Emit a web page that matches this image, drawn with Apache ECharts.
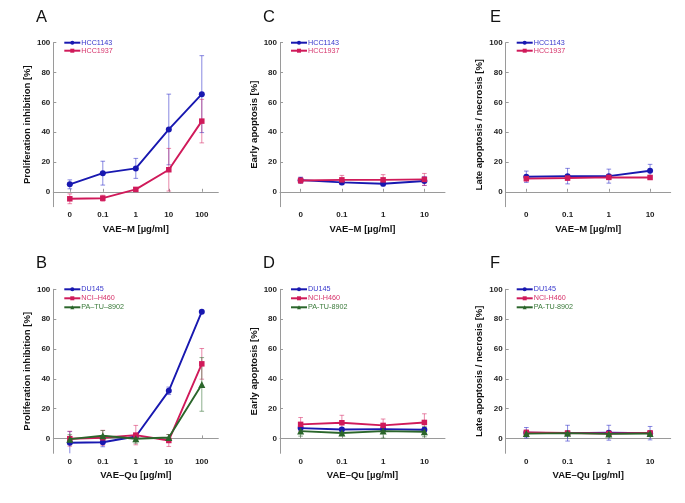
<!DOCTYPE html>
<html><head><meta charset="utf-8">
<script src="https://cdn.jsdelivr.net/npm/echarts@6/dist/echarts.min.js"></script>
<style>html,body{margin:0;padding:0;background:#fff}#c{width:685px;height:503px}</style>
</head><body><div id="c"></div>
<script>
// categories
const catsM = ['0', '0.1', '1', '10', '100'];
const cats4 = ['0', '0.1', '1', '10'];
// Panel A: proliferation inhibition, VAE-M
const A_HCC1143 = [5, 12.5, 15.7, 41.8, 65.5];
const A_HCC1143_err = [3, 8, 6.7, 23.7, 25.8];
const A_HCC1937 = [-4.7, -4.3, 1.6, 14.8, 47.4];
const A_HCC1937_err = [3.3, 2, 1, 14.3, 14.6];
// Panel B: proliferation inhibition, VAE-Qu
const B_DU145 = [-2.9, -2.6, 1.3, 31.9, 85];
const B_DU145_err = [7.5, 3, 1.5, 2.5, 0.5];
const B_NCIH460 = [-0.2, 0.4, 2.2, -1.4, 50];
const B_NCIH460_err = [5, 5, 6.5, 4, 10.3];
const B_PATU8902 = [-0.5, 1.8, -0.2, 0.6, 36.2];
const B_PATU8902_err = [3, 3.5, 3, 2, 18];
// Panel C: early apoptosis, VAE-M
const C_HCC1143 = [7.8, 6.3, 5.4, 7.2];
const C_HCC1143_err = [2, 1.5, 1.5, 3];
const C_HCC1937 = [7.6, 8, 8, 8.3];
const C_HCC1937_err = [2, 3, 3.5, 4];
// Panel D: early apoptosis, VAE-Qu
const D_DU145 = [6.9, 6, 6.2, 5.8];
const D_DU145_err = [1.5, 1, 1.5, 1.5];
const D_NCIH460 = [9.4, 10.5, 8.7, 10.7];
const D_NCIH460_err = [4.6, 5, 4.3, 5.8];
const D_PATU8902 = [4.9, 3.6, 4.9, 4.5];
const D_PATU8902_err = [3.4, 1, 4.7, 3.4];
// Panel E: late apoptosis / necrosis, VAE-M
const E_HCC1143 = [10.1, 10.5, 10.5, 14.1];
const E_HCC1143_err = [3.8, 5.2, 4.7, 4.3];
const E_HCC1937 = [8.8, 9.2, 9.7, 9.6];
const E_HCC1937_err = [1.5, 1.5, 1.5, 1];
// Panel F: late apoptosis / necrosis, VAE-Qu
const F_DU145 = [3.8, 3.5, 3.8, 3.5];
const F_DU145_err = [3.5, 5.3, 5, 4.5];
const F_NCIH460 = [4, 3.6, 3.3, 3.7];
const F_NCIH460_err = [1.5, 1, 1, 1];
const F_PATU8902 = [3.2, 3.5, 3, 3.3];
const F_PATU8902_err = [1, 1, 1, 1];

const FONT = 'Liberation Sans, Arial, sans-serif';
const STY = {
  blue:  {line: '#1818b0', err: 'rgba(40,40,200,0.55)', text: '#3535cc', symbol: 'circle', size: 6},
  red:   {line: '#d01a5a', err: 'rgba(215,40,100,0.55)', text: '#d6336b', symbol: 'rect', size: 5.5},
  green: {line: '#2b662b', err: 'rgba(50,110,50,0.55)', text: '#3a7a3a', symbol: 'triangle', size: 7}
};

const panels = [
  {letter: 'A', left: 53.3, top: 42.7, cats: catsM, xName: 'VAE\u2013M [\u00b5g/ml]', yName: 'Proliferation inhibition [%]', lx: 36, ly: 9, gap: 0,
   series: [['HCC1143', A_HCC1143, A_HCC1143_err, 'blue'], ['HCC1937', A_HCC1937, A_HCC1937_err, 'red']]},
  {letter: 'B', left: 53.3, top: 289.3, cats: catsM, xName: 'VAE\u2013Qu [\u00b5g/ml]', yName: 'Proliferation inhibition [%]', lx: 36, ly: 255, gap: 1,
   series: [['DU145', B_DU145, B_DU145_err, 'blue'], ['NCI\u2013H460', B_NCIH460, B_NCIH460_err, 'red'], ['PA\u2013TU\u20138902', B_PATU8902, B_PATU8902_err, 'green']]},
  {letter: 'C', left: 280, top: 42.7, cats: cats4, xName: 'VAE\u2013M [\u00b5g/ml]', yName: 'Early apoptosis [%]', lx: 263, ly: 9, gap: 0,
   series: [['HCC1143 ', C_HCC1143, C_HCC1143_err, 'blue'], ['HCC1937 ', C_HCC1937, C_HCC1937_err, 'red']]},
  {letter: 'D', left: 280, top: 289.3, cats: cats4, xName: 'VAE\u2013Qu [\u00b5g/ml]', yName: 'Early apoptosis [%]', lx: 263, ly: 255, gap: 1,
   series: [['DU145 ', D_DU145, D_DU145_err, 'blue'], ['NCI-H460', D_NCIH460, D_NCIH460_err, 'red'], ['PA-TU-8902', D_PATU8902, D_PATU8902_err, 'green']]},
  {letter: 'E', left: 505.7, top: 42.7, cats: cats4, xName: 'VAE\u2013M [\u00b5g/ml]', yName: 'Late apoptosis / necrosis [%]', lx: 490, ly: 9, gap: 0,
   series: [['HCC1143  ', E_HCC1143, E_HCC1143_err, 'blue'], ['HCC1937  ', E_HCC1937, E_HCC1937_err, 'red']]},
  {letter: 'F', left: 505.7, top: 289.3, cats: cats4, xName: 'VAE\u2013Qu [\u00b5g/ml]', yName: 'Late apoptosis / necrosis [%]', lx: 490, ly: 255, gap: 1,
   series: [['DU145  ', F_DU145, F_DU145_err, 'blue'], ['NCI-H460 ', F_NCIH460, F_NCIH460_err, 'red'], ['PA-TU-8902 ', F_PATU8902, F_PATU8902_err, 'green']]}
];

const option = {animation: false, backgroundColor: '#fff', title: [], grid: [], xAxis: [], yAxis: [], legend: [], series: []};

panels.forEach((p, i) => {
  option.title.push({text: p.letter, left: p.lx, top: p.ly, padding: 0,
    textStyle: {fontFamily: FONT, fontSize: 16.5, fontWeight: 'normal', color: '#111'}});
  option.grid.push({left: p.left, top: p.top, width: 165, height: 164});
  option.xAxis.push({type: 'category', gridIndex: i, data: p.cats, boundaryGap: true,
    name: p.xName, nameLocation: 'middle', nameGap: 17.5,
    nameTextStyle: {fontFamily: FONT, fontSize: 9.5, fontWeight: 'bold', color: '#111'},
    axisLine: {lineStyle: {color: '#9a9a9a', width: 1}},
    axisTick: {show: true, inside: true, length: 3, alignWithLabel: true, lineStyle: {color: '#9a9a9a'}},
    axisLabel: {fontFamily: FONT, fontSize: 8, fontWeight: 'bold', color: '#222', margin: 4},
    splitLine: {show: false}});
  option.yAxis.push({type: 'value', gridIndex: i, min: -10, max: 100, splitNumber: 5,
    name: p.yName, nameLocation: 'middle', nameGap: 21,
    nameTextStyle: {fontFamily: FONT, fontSize: 9.5, fontWeight: 'bold', color: '#111'},
    axisLine: {show: true, lineStyle: {color: '#9a9a9a', width: 1}},
    axisTick: {show: true, inside: true, length: 3, lineStyle: {color: '#9a9a9a'}},
    axisLabel: {fontFamily: FONT, fontSize: 8, fontWeight: 'bold', color: '#222', margin: 3, showMinLabel: false,
      formatter: v => (v >= 0 ? String(v) : '')},
    splitLine: {show: false}});
  option.legend.push({orient: 'vertical', left: p.left + 10, top: p.top - 4, padding: 0,
    itemGap: p.gap, itemWidth: 16, itemHeight: 5, selectedMode: false,
    data: p.series.map(s => ({name: s[0], textStyle: {color: STY[s[3]].text}})),
    textStyle: {fontFamily: FONT, fontSize: 7.2, lineHeight: 8, padding: [0, 0, 0, -4]}});
  p.series.forEach((s, k) => {
    const st = STY[s[3]];
    option.series.push({type: 'custom', name: 'err_' + i + '_' + k, xAxisIndex: i, yAxisIndex: i, z: 1,
      data: s[1].map((v, j) => [j, v, s[2][j]]),
      encode: {x: 0, y: 1},
      renderItem: (params, api) => {
        const x = api.value(0), m = api.value(1), e = api.value(2);
        const hi = api.coord([x, m + e]), lo = api.coord([x, Math.max(m - e, -10)]);
        const loCap = m - e >= -10;
        const w = 2.3;
        const children = [
          {type: 'line', shape: {x1: hi[0], y1: hi[1], x2: lo[0], y2: lo[1]}, style: {stroke: st.err, lineWidth: 1}},
          {type: 'line', shape: {x1: hi[0] - w, y1: hi[1], x2: hi[0] + w, y2: hi[1]}, style: {stroke: st.err, lineWidth: 1}}
        ];
        if (loCap) children.push({type: 'line', shape: {x1: lo[0] - w, y1: lo[1], x2: lo[0] + w, y2: lo[1]}, style: {stroke: st.err, lineWidth: 1}});
        return {type: 'group', children};
      }});
  });
  p.series.forEach((s, k) => {
    const st = STY[s[3]];
    option.series.push({type: 'line', name: s[0], xAxisIndex: i, yAxisIndex: i, z: 3 + k,
      data: s[1], symbol: st.symbol, symbolSize: st.size, showSymbol: true,
      lineStyle: {color: st.line, width: 1.9}, itemStyle: {color: st.line}});
  });
});

const chart = echarts.init(document.getElementById('c'), null, {renderer: 'canvas'});
chart.setOption(option);
</script></body></html>
